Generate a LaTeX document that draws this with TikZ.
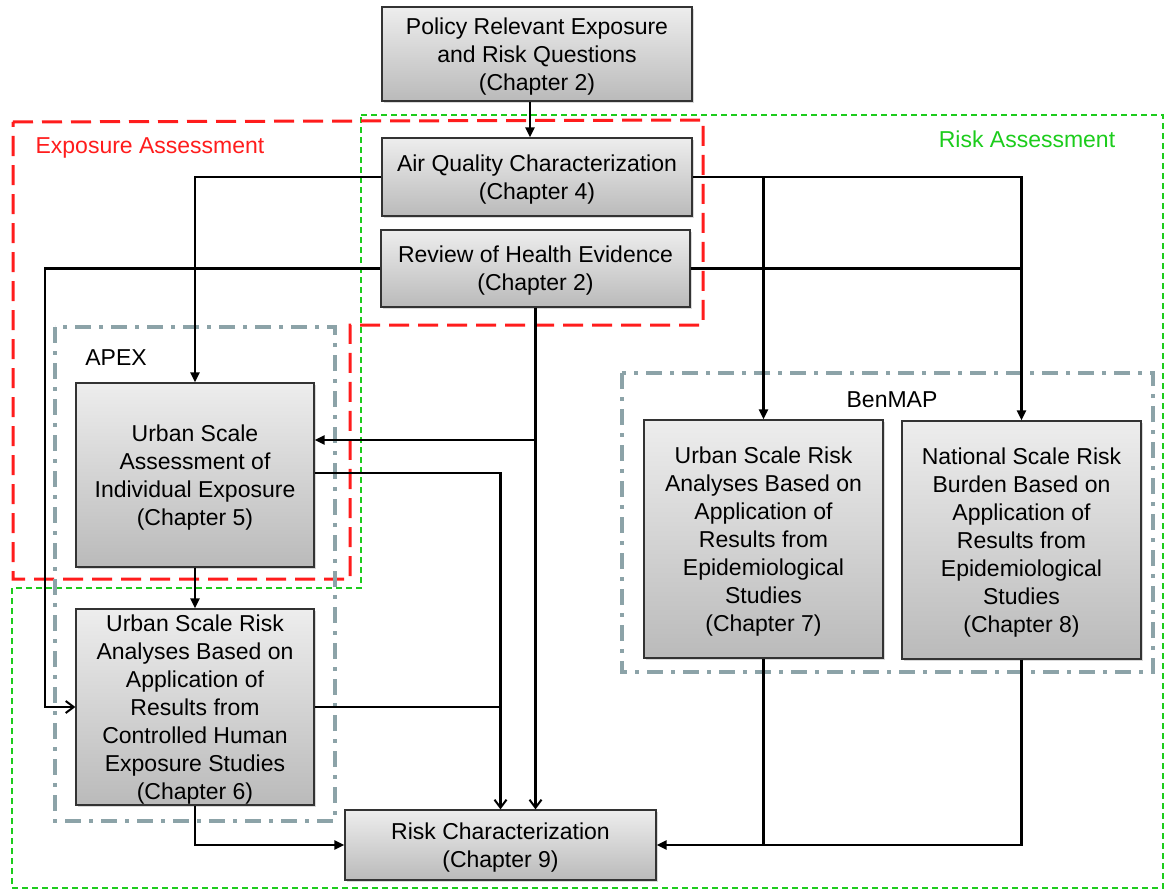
\documentclass[tikz,border=0pt]{standalone}
\usepackage{fontspec}
\setmainfont{Liberation Sans}
\usetikzlibrary{arrows.meta,shadows}
\definecolor{expored}{RGB}{255,28,28}
\definecolor{riskgreen}{RGB}{28,204,28}
\definecolor{toolgray}{RGB}{140,163,168}
\begin{document}
\begin{tikzpicture}[x=1pt,y=-1pt,
	font=\fontsize{23}{28}\selectfont,
	chbox/.style={draw=black!80,line width=1.3pt,align=center,inner sep=0pt,
		top color=black!7,bottom color=black!27,text depth=-2pt,
		drop shadow={shadow xshift=2pt,shadow yshift=-2pt,opacity=0.3}},
	arr/.style={line width=2.2pt,-{Triangle[length=10pt,width=9pt]}},
	barb/.style={line width=2.2pt,-{Straight Barb[length=8pt,width=12pt,line width=2pt]}},
	link/.style={line width=2.2pt},
	expoline/.style={expored,line width=3pt,dash pattern=on 20pt off 9pt},
	riskline/.style={riskgreen,line width=2.5pt,dash pattern=on 6pt off 4pt},
	toolline/.style={toolgray,line width=3.5pt,dash pattern=on 16pt off 8pt on 4pt off 8pt}]
	\useasboundingbox (0,0) rectangle (1166,890);
	\draw[riskline] (361,115) -- (1163,115) -- (1163,888) -- (12,888) -- (12,588) -- (361,588) -- cycle;
	\draw[expoline] (13,122) -- (703,120) -- (703,325) -- (350,325) -- (350,579) -- (13,579) -- cycle;
	\draw[toolline] (55,327) rectangle (335,821);
	\draw[toolline] (622,373) rectangle (1153,672);
	\node[text=expored] (expo) at (150,148) {Exposure Assessment};
	\node[text=riskgreen] (risk) at (1027,139) {Risk Assessment};
	\node (apex) at (116,358) {APEX};
	\node (benmap) at (892,400) {BenMAP};
	\node[chbox,minimum width=310,minimum height=94] (pol) at (537,54) {Policy Relevant Exposure\\and Risk Questions\\(Chapter 2)};
	\node[chbox,minimum width=310,minimum height=78] (aq) at (537,177) {Air Quality Characterization\\(Chapter 4)};
	\node[chbox,minimum width=309,minimum height=77] (rev) at (535.5,268.5) {Review of Health Evidence\\(Chapter 2)};
	\node[chbox,minimum width=238,minimum height=184] (usa) at (195,475) {Urban Scale\\Assessment of\\Individual Exposure\\(Chapter 5)};
	\node[chbox,minimum width=238,minimum height=196] (chr) at (195,707) {Urban Scale Risk\\Analyses Based on\\Application of\\Results from\\Controlled Human\\Exposure Studies\\(Chapter 6)};
	\node[chbox,minimum width=239,minimum height=238] (ep7) at (763.5,539) {Urban Scale Risk\\Analyses Based on\\Application of\\Results from\\Epidemiological\\Studies\\(Chapter 7)};
	\node[chbox,minimum width=239,minimum height=238] (ep8) at (1021.5,540) {National Scale Risk\\Burden Based on\\Application of\\Results from\\Epidemiological\\Studies\\(Chapter 8)};
	\node[chbox,minimum width=311,minimum height=70] (rc) at (500.5,845) {Risk Characterization\\(Chapter 9)};
	\coordinate (lft) at (45,268.5);
	\draw[arr] ([xshift=-7pt]pol.south) -- ([xshift=-7pt]pol.south |- aq.north);
	\draw[arr] (aq.west) -| (usa.north);
	\draw[arr] (aq.east) -| (ep8.north);
	\draw[arr] (aq.east -| ep7.north) -- (ep7.north);
	\draw[link] (rev.east) -- (rev.east -| ep8.north);
	\draw[barb] (rev.west) -- (lft) |- (chr.west);
	\draw[arr] (rev.south) |- ([yshift=35pt]usa.east);
	\draw[barb] (rev.south) -- (rev.south |- rc.north);
	\draw[barb] ([yshift=2pt]usa.east) -| (rc.north);
	\draw[link] (chr.east) -- (chr.east -| rc.north);
	\draw[arr] (usa.south) -- (chr.north);
	\draw[arr] (chr.south) |- (rc.west);
	\draw[arr] (ep7.south) |- (rc.east);
	\draw[link] (ep8.south) |- (rc.east -| ep7.south);
\end{tikzpicture}
\end{document}
